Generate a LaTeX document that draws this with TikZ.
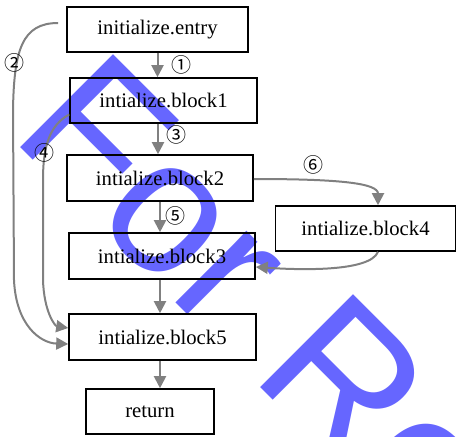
\documentclass[tikz,border=0pt]{standalone}
\usepackage{fontspec}
\setmainfont{Liberation Serif}
\newfontfamily\boxfont{Liberation Serif}
\newfontfamily\wmfont{Liberation Sans}
\newfontfamily\circfont{Noto Sans CJK SC}
\usetikzlibrary{arrows.meta,calc}
\definecolor{wmblue}{RGB}{102,102,255}
\definecolor{edgegray}{RGB}{128,128,128}
\begin{document}
\begin{tikzpicture}[x=1pt,y=-1pt,
  blk/.style={draw=black,line width=1.6pt,inner sep=0pt,
    font=\boxfont\fontsize{20.7}{24}\selectfont},
  edge/.style={draw=edgegray,line width=2pt,
    -{Triangle[length=12pt,width=12pt]}},
  num/.style={inner sep=0pt,font=\circfont\fontsize{20}{22}\selectfont}]
\useasboundingbox (0,0) rectangle (457,436);
\begin{scope}
\clip (0,0) rectangle (457,436);
\node[wmblue,rotate=-45,anchor=base west,inner sep=0pt,
  font=\wmfont\fontsize{191}{200}\selectfont] (wm) at (9,136) {For Review};
\end{scope}
\node[blk,minimum width=181pt,minimum height=45pt] (entry) at (157.5,29.5) {initialize.entry};
\node[blk,minimum width=187pt,minimum height=45pt] (b1) at (163.5,100.5) {intialize.block1};
\node[blk,minimum width=186pt,minimum height=46pt] (b2) at (160,178) {intialize.block2};
\node[blk,minimum width=186pt,minimum height=46pt] (b3) at (162,256) {intialize.block3};
\node[blk,minimum width=180pt,minimum height=45pt] (b4) at (365.5,228.5) {intialize.block4};
\node[blk,minimum width=187pt,minimum height=46pt] (b5) at (162.5,337) {intialize.block5};
\node[blk,minimum width=128pt,minimum height=45pt] (ret) at (150,411.5) {return};
% straight edges
\draw[edge] (entry.south) -- ($(b1.north)+(-6,0)$);
\draw[edge] ($(b1.south)+(-5.5,0)$) -- ($(b2.north)+(-2,0)$);
\draw[edge] (b2.south) -- ($(b3.north)+(-2,0)$);
\draw[edge] ($(b3.south)+(-2,0)$) -- ($(b5.north)+(-2.5,0)$);
\draw[edge] ($(b5.south)+(-2.5,0)$) -- ($(ret.north)+(10,0)$);
% curved edges
\draw[edge] ($(b2.east)+(0,1)$) .. controls (340,179) and ($(b4.north)+(12.5,-22)$) .. ($(b4.north)+(12.5,0)$);
\draw[edge] ($(b4.south)+(12.5,0)$) .. controls (370,272) and (300,270) .. ($(b3.east)+(0,11)$);
\coordinate (s2) at ($(entry.west)+(-8,-6.5)$);
\draw[edge] (s2) .. controls (22,23) and (14,50) .. (13,110) -- (14,280)
  .. controls (16,325) and (40,343) .. ($(b5.west)+(0,7)$);
\draw[edge] ($(b1.west)+(0,14)$) .. controls (50,125) and (43,145) .. (43,180) -- (43,280)
  .. controls (44,312) and (55,326) .. ($(b5.west)+(0,-9)$);
% labels
\node[num] (n1) at (181,65) {①};
\node[num] (n2) at (15,63) {②};
\node[num] (n3) at (176,135) {③};
\node[num] (n4) at (44,153) {④};
\node[num] (n5) at (175,216) {⑤};
\node[num] (n6) at (313,165) {⑥};
\end{tikzpicture}
\end{document}
